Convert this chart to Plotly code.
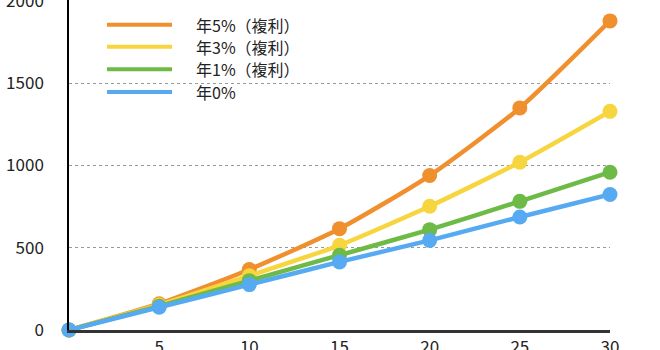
import plotly.graph_objects as go

# 積立年数と各利回りでの資産額（万円）
years = [0, 5, 10, 15, 20, 25, 30]
rate5 = [0, 160, 368, 616, 939, 1350, 1879]
rate3 = [0, 152, 330, 515, 752, 1020, 1329]
rate1 = [0, 145, 300, 455, 610, 782, 959]
rate0 = [0, 138, 276, 414, 545, 687, 824]

series_names = ["年5%（複利）", "年3%（複利）", "年1%（複利）", "年0%"]
series_values = [rate5, rate3, rate1, rate0]
series_colors = ["#F08F2E", "#F7D53E", "#6DBB46", "#56AAF1"]

x_ticks = [5, 10, 15, 20, 25, 30]
y_ticks = [0, 500, 1000, 1500, 2000]

font_family = "Noto Sans CJK JP, Noto Sans, sans-serif"

fig = go.Figure()
for name, vals, color in zip(series_names, series_values, series_colors):
    fig.add_trace(go.Scatter(
        x=years, y=vals, name=name,
        mode="lines+markers",
        line=dict(color=color, width=4.5, shape="spline", smoothing=0.6),
        marker=dict(color=color, size=15),
        showlegend=False,
        cliponaxis=False,
    ))

# 凡例（線サンプル＋ラベル）
shapes = []
annotations = []
row_y = [24.7, 46.7, 69.3, 92.0]
plot_h = 330.0
for i, (name, color) in enumerate(zip(series_names, series_colors)):
    yp = 1 - row_y[i] / plot_h
    shapes.append(dict(type="line", xref="paper", yref="paper",
                       x0=(107 - 69) / 541, x1=(172 - 69) / 541, y0=yp, y1=yp,
                       line=dict(color=color, width=4)))
    annotations.append(dict(text=name, xref="paper", yref="paper",
                            x=(194 - 69) / 541, y=yp, xanchor="left", yanchor="middle",
                            showarrow=False, height=20,
                            font=dict(family=font_family, size=16, color="#222222")))

fig.update_layout(
    width=660, height=350,
    margin=dict(l=69, r=50, t=0, b=20, autoexpand=False),
    paper_bgcolor="white", plot_bgcolor="white",
    font=dict(family=font_family, size=17, color="#222222"),
    shapes=shapes, annotations=annotations,
    xaxis=dict(
        range=[0, 30], tickvals=x_ticks, ticktext=[str(v) for v in x_ticks],
        showgrid=False, zeroline=False, automargin=False,
        showline=True, linecolor="#333333", linewidth=3,
        ticks="", ticklabelstandoff=0, ticklabeloverflow="allow",
    ),
    yaxis=dict(
        range=[0, 2006], tickvals=y_ticks,
        showgrid=True, gridcolor="#999999", griddash="dot", gridwidth=1,
        zeroline=False, automargin=False,
        showline=True, linecolor="#000000", linewidth=1.5,
        ticks="", ticklabelstandoff=20, ticklabeloverflow="allow",
    ),
)

fig.write_html("out.html")
